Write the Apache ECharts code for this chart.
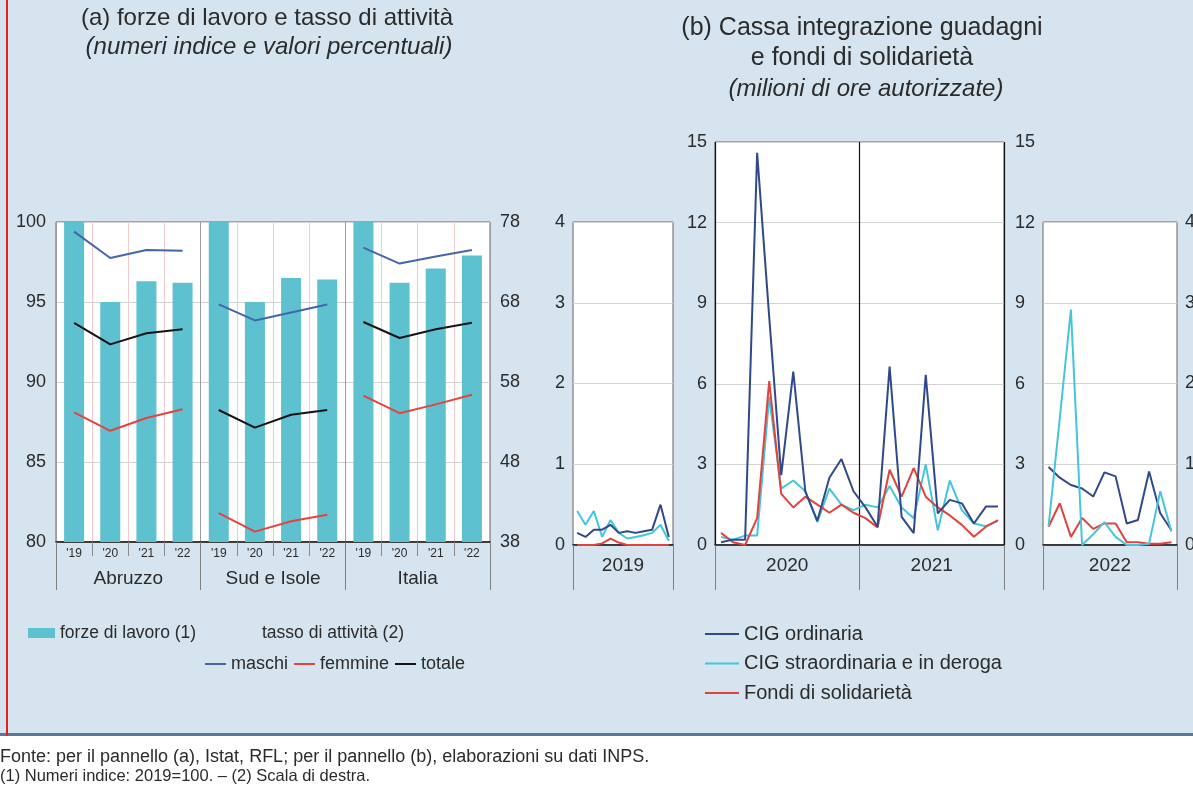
<!DOCTYPE html>
<html>
<head>
<meta charset="utf-8">
<script src="https://cdn.jsdelivr.net/npm/echarts@6/dist/echarts.min.js"></script>
<style>
  html, body { margin: 0; padding: 0; background: #fff; }
  #chart { width: 1193px; height: 791px; }
</style>
</head>
<body>
<div id="chart"></div>
<script>
// ---- Panel (a): labour force (index, 2019=100) and activity rates (%) ----
const areas = ['Abruzzo', 'Sud e Isole', 'Italia'];
const yearTicks = ["'19", "'20", "'21", "'22"];
const forzeLavoro = [100, 95.0, 96.3, 96.2, 100, 95.0, 96.5, 96.4, 100, 96.2, 97.1, 97.9];
const tassoMaschi = [76.8, 73.5, 74.5, 74.4, 67.7, 65.7, 66.7, 67.7, 74.8, 72.8, 73.7, 74.5];
const tassoFemmine = [54.2, 51.9, 53.5, 54.6, 41.6, 39.3, 40.6, 41.4, 56.3, 54.1, 55.2, 56.4];
const tassoTotale = [65.4, 62.7, 64.1, 64.6, 54.5, 52.3, 53.9, 54.5, 65.5, 63.5, 64.6, 65.4];
const leftTicks = [80, 85, 90, 95, 100];
const rightTicks = [38, 48, 58, 68, 78];

// ---- Panel (b): authorised hours, millions, monthly ----
const monthNames = ['gen', 'feb', 'mar', 'apr', 'mag', 'giu', 'lug', 'ago', 'set', 'ott', 'nov', 'dic'];
const cigOrdinaria2019 = [0.15, 0.10, 0.19, 0.19, 0.25, 0.15, 0.17, 0.15, 0.17, 0.19, 0.50, 0.10];
const cigStraord2019 = [0.42, 0.25, 0.42, 0.10, 0.31, 0.15, 0.08, 0.10, 0.12, 0.15, 0.25, 0.05];
const fondi2019 = [0.00, 0.00, 0.00, 0.02, 0.08, 0.03, 0.00, 0.00, 0.00, 0.00, 0.00, 0.00];

const cigOrdinaria2020 = [0.10, 0.20, 0.20, 14.6, 8.5, 2.6, 6.45, 2.0, 0.9, 2.5, 3.2, 2.0];
const cigStraord2020 = [0.30, 0.20, 0.35, 0.35, 5.5, 2.1, 2.4, 2.0, 0.85, 2.1, 1.5, 1.3];
const fondi2020 = [0.45, 0.10, 0.00, 1.0, 6.1, 1.9, 1.4, 1.8, 1.5, 1.2, 1.5, 1.2];

const cigOrdinaria2021 = [1.4, 0.68, 6.64, 1.05, 0.44, 6.33, 1.18, 1.68, 1.55, 0.8, 1.43, 1.43];
const cigStraord2021 = [1.5, 1.4, 2.2, 1.4, 1.0, 3.0, 0.55, 2.4, 1.3, 0.8, 0.7, 0.9];
const fondi2021 = [1.0, 0.65, 2.8, 1.8, 2.86, 1.8, 1.4, 1.1, 0.75, 0.31, 0.68, 0.93];

const cigOrdinaria2022 = [2.9, 2.5, 2.23, 2.1, 1.8, 2.7, 2.55, 0.8, 0.93, 2.73, 1.18, 0.55];
const cigStraord2022 = [0.7, 4.7, 8.75, 0.0, 0.4, 0.85, 0.3, 0.0, 0.0, 0.05, 2.0, 0.5];
const fondi2022 = [0.68, 1.55, 0.3, 1.0, 0.6, 0.8, 0.8, 0.1, 0.1, 0.05, 0.05, 0.1];

// ---- styling ----
const FONT = "'Liberation Sans', Arial, Helvetica, sans-serif";
const TXT = '#2b2b2b';
const C_BAR = '#5ec1cf';
const C_MASCHI = '#4565ad';
const C_FEMMINE = '#e4433e';
const C_TOTALE = '#141414';
const C_ORD = '#30498a';
const C_STR = '#45c5dc';
const C_FONDI = '#e2423d';
const GRID_LINE = '#d3d3d3';
const BORDER = '#676767';

const NAME_BAR = 'forze di lavoro (1)';
const NAME_ORD = 'CIG ordinaria';
const NAME_STR = 'CIG straordinaria e in deroga';
const NAME_FONDI = 'Fondi di solidarietà';

// category keys for panel (a): one slot per area and year
const panelCats = [];
areas.forEach(a => yearTicks.forEach(y => panelCats.push(a + '|' + y)));

// monthly category keys for the panel (b) boxes
const monthsOf = yr => monthNames.map(m => m + ' ' + yr);
const x2019 = monthsOf(2019);
const x2020_21 = monthsOf(2020).concat(monthsOf(2021));
const x2022 = monthsOf(2022);

// split a 12-value rate series into one line per area (no joins across areas)
function splitByArea(values) {
  return areas.map((a, g) => values.map((v, i) => (Math.floor(i / yearTicks.length) === g ? v : null)));
}

function rateSeries(name, values, color) {
  return splitByArea(values).map(d => ({
    name, type: 'line', xAxisIndex: 0, yAxisIndex: 1, data: d,
    symbol: 'none', connectNulls: false,
    lineStyle: { color, width: 2 }, itemStyle: { color }, z: 3
  }));
}

function monthSeries(name, data, color, xi, yi) {
  return {
    name, type: 'line', xAxisIndex: xi, yAxisIndex: yi, data,
    symbol: 'none', lineStyle: { color, width: 2 }, itemStyle: { color }, z: 3
  };
}

const boxGrid = (left, top, width, height) => ({
  left, top, width, height, show: true, backgroundColor: '#ffffff',
  borderColor: BORDER, borderWidth: 1, containLabel: false, outerBoundsMode: 'none'
});

const dataXAxis = (gridIndex, data) => ({
  gridIndex, type: 'category', data, boundaryGap: true, position: 'bottom',
  axisLine: { show: true, onZero: false, lineStyle: { color: '#111', width: 1.5 } },
  axisTick: { show: false }, axisLabel: { show: false }, splitLine: { show: false }
});

const labelXAxis = (gridIndex, data, divider) => ({
  gridIndex, type: 'category', data, boundaryGap: true, position: 'bottom',
  axisLine: { show: false },
  axisTick: { show: true, length: 45, interval: 0, lineStyle: { color: '#808080' } },
  axisLabel: { interval: 0, margin: 11, fontSize: 19, color: TXT, fontFamily: FONT },
  splitLine: { show: !!divider, interval: 0, lineStyle: { color: '#111', width: 1.2 } }
});

const valueYAxis = (gridIndex, max, interval, position, opts) => Object.assign({
  gridIndex, type: 'value', min: 0, max, interval, position,
  axisLine: { show: false }, axisTick: { show: false },
  axisLabel: { fontSize: 18, color: TXT, fontFamily: FONT, margin: 8 },
  splitLine: { show: true, lineStyle: { color: GRID_LINE } }
}, opts || {});

const chart = echarts.init(document.getElementById('chart'), null, { renderer: 'canvas', width: 1193, height: 791 });

const option = {
  animation: false,
  backgroundColor: '#d5e4ef',
  textStyle: { fontFamily: FONT },
  grid: [
    boxGrid(56, 222, 434, 320),   // panel (a)
    boxGrid(573, 222, 100, 323),  // 2019
    boxGrid(715, 142, 289, 403),  // 2020-2021
    boxGrid(1043, 222, 134, 323)  // 2022
  ],
  xAxis: [
    {
      gridIndex: 0, type: 'category', data: panelCats, boundaryGap: true, position: 'bottom',
      axisLine: { show: true, lineStyle: { color: '#111', width: 1.5 } },
      axisTick: { show: true, length: 14, interval: 0, lineStyle: { color: '#8a8a8a' } },
      axisLabel: {
        interval: 0, margin: 6, fontSize: 12, color: TXT, fontFamily: FONT,
        formatter: v => v.split('|')[1]
      },
      splitLine: { show: true, interval: 0, lineStyle: { color: '#f0cccc' } }
    },
    {
      gridIndex: 0, type: 'category', data: areas, boundaryGap: true, position: 'bottom',
      axisLine: { show: false },
      axisTick: { show: true, length: 48, interval: 0, lineStyle: { color: '#808080' } },
      axisLabel: { interval: 0, margin: 27, fontSize: 19, color: TXT, fontFamily: FONT },
      splitLine: { show: true, interval: 0, lineStyle: { color: '#9c9c9c' } }
    },
    dataXAxis(1, x2019),
    labelXAxis(1, ['2019'], false),
    dataXAxis(2, x2020_21),
    labelXAxis(2, ['2020', '2021'], true),
    dataXAxis(3, x2022),
    labelXAxis(3, ['2022'], false)
  ],
  yAxis: [
    {
      gridIndex: 0, type: 'value', min: leftTicks[0], max: leftTicks[leftTicks.length - 1], interval: 5,
      position: 'left',
      axisLine: { show: false }, axisTick: { show: false },
      axisLabel: { fontSize: 18, color: TXT, fontFamily: FONT, margin: 10 },
      splitLine: { show: true, lineStyle: { color: GRID_LINE } }
    },
    {
      gridIndex: 0, type: 'value', min: rightTicks[0], max: rightTicks[rightTicks.length - 1],
      position: 'right',
      axisLine: { show: false }, axisTick: { show: false },
      axisLabel: { fontSize: 18, color: TXT, fontFamily: FONT, margin: 10, customValues: rightTicks },
      splitLine: { show: false }
    },
    valueYAxis(1, 4, 1, 'left'),
    valueYAxis(2, 15, 3, 'left'),
    valueYAxis(2, 15, 3, 'right', {
      splitLine: { show: false },
      axisLabel: { fontSize: 18, color: TXT, fontFamily: FONT, margin: 11 }
    }),
    valueYAxis(3, 12, 3, 'left', { axisLabel: { show: false } }),
    valueYAxis(3, 4, 1, 'right', {
      splitLine: { show: false },
      axisLabel: { fontSize: 18, color: TXT, fontFamily: FONT, margin: 8 }
    })
  ],
  legend: [
    {
      data: [NAME_BAR], left: 28, top: 624, padding: 0, icon: 'rect', itemWidth: 27, itemHeight: 10,
      selectedMode: false, textStyle: { fontSize: 17.5, color: TXT, fontFamily: FONT }
    },
    {
      data: ['maschi', 'femmine', 'totale'], left: 205, top: 655, padding: 0, icon: 'rect',
      itemWidth: 21, itemHeight: 2, itemGap: 6, selectedMode: false,
      textStyle: { fontSize: 18, color: TXT, fontFamily: FONT }
    },
    {
      data: [NAME_ORD, NAME_STR, NAME_FONDI], orient: 'vertical', left: 705, top: 624, padding: 0, icon: 'rect',
      itemWidth: 34, itemHeight: 2, itemGap: 9.5, selectedMode: false,
      textStyle: { fontSize: 20, color: TXT, fontFamily: FONT }
    }
  ],
  series: [
    {
      name: NAME_BAR, type: 'bar', xAxisIndex: 0, yAxisIndex: 0, data: forzeLavoro,
      barWidth: 20, itemStyle: { color: C_BAR }, z: 2
    },
    ...rateSeries('maschi', tassoMaschi, C_MASCHI),
    ...rateSeries('femmine', tassoFemmine, C_FEMMINE),
    ...rateSeries('totale', tassoTotale, C_TOTALE),

    monthSeries(NAME_FONDI, fondi2019, C_FONDI, 2, 2),
    monthSeries(NAME_STR, cigStraord2019, C_STR, 2, 2),
    monthSeries(NAME_ORD, cigOrdinaria2019, C_ORD, 2, 2),

    monthSeries(NAME_STR, cigStraord2020.concat(cigStraord2021), C_STR, 4, 3),
    monthSeries(NAME_FONDI, fondi2020.concat(fondi2021), C_FONDI, 4, 3),
    monthSeries(NAME_ORD, cigOrdinaria2020.concat(cigOrdinaria2021), C_ORD, 4, 3),

    monthSeries(NAME_ORD, cigOrdinaria2022, C_ORD, 6, 5),
    monthSeries(NAME_FONDI, fondi2022, C_FONDI, 6, 5),
    monthSeries(NAME_STR, cigStraord2022, C_STR, 6, 5)
  ],
  graphic: [
    { type: 'rect', silent: true, shape: { x: 0, y: 736, width: 1193, height: 55 }, style: { fill: '#ffffff' } },
    { type: 'rect', silent: true, shape: { x: 0, y: 733, width: 1193, height: 3 }, style: { fill: '#58799a' } },
    { type: 'line', silent: true, shape: { x1: 7, y1: 0, x2: 7, y2: 736 }, style: { stroke: '#e2231a', lineWidth: 2 } },
    {
      type: 'text', x: 267, y: 18,
      style: { text: '(a) forze di lavoro e tasso di attività', fontSize: 24, fontFamily: FONT, fill: TXT, align: 'center', verticalAlign: 'middle' }
    },
    {
      type: 'text', x: 269, y: 47,
      style: { text: '(numeri indice e valori percentuali)', fontSize: 24, fontStyle: 'italic', fontFamily: FONT, fill: TXT, align: 'center', verticalAlign: 'middle' }
    },
    {
      type: 'text', x: 862, y: 28,
      style: { text: '(b) Cassa integrazione guadagni', fontSize: 25, fontFamily: FONT, fill: TXT, align: 'center', verticalAlign: 'middle' }
    },
    {
      type: 'text', x: 862, y: 58,
      style: { text: 'e fondi di solidarietà', fontSize: 25, fontFamily: FONT, fill: TXT, align: 'center', verticalAlign: 'middle' }
    },
    {
      type: 'text', x: 866, y: 89,
      style: { text: '(milioni di ore autorizzate)', fontSize: 24, fontStyle: 'italic', fontFamily: FONT, fill: TXT, align: 'center', verticalAlign: 'middle' }
    },
    {
      type: 'text', x: 262, y: 633,
      style: { text: 'tasso di attività (2)', fontSize: 17.5, fontFamily: FONT, fill: TXT, align: 'left', verticalAlign: 'middle' }
    },
    {
      type: 'text', x: 0, y: 757,
      style: { text: 'Fonte: per il pannello (a), Istat, RFL; per il pannello (b), elaborazioni su dati INPS.', fontSize: 18, fontFamily: FONT, fill: TXT, align: 'left', verticalAlign: 'middle' }
    },
    {
      type: 'text', x: 0, y: 776,
      style: { text: '(1) Numeri indice: 2019=100. – (2) Scala di destra.', fontSize: 16.5, fontFamily: FONT, fill: TXT, align: 'left', verticalAlign: 'middle' }
    }
  ]
};

chart.setOption(option);
</script>
</body>
</html>
